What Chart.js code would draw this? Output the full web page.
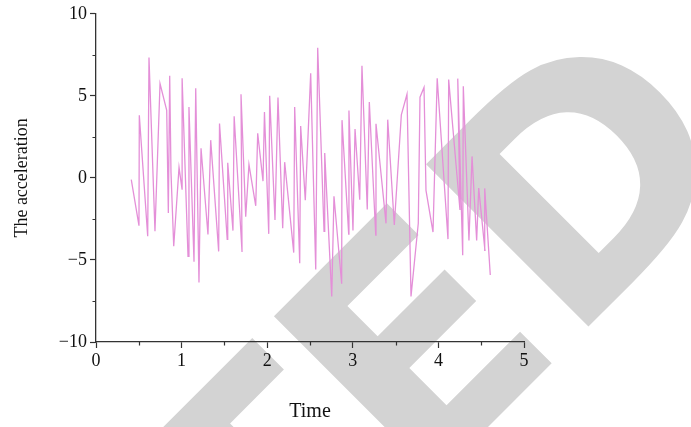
<!DOCTYPE html>
<html>
<head>
<meta charset="utf-8">
<script src="https://cdn.jsdelivr.net/npm/chart.js@4.4.1/dist/chart.umd.min.js"></script>
<style>
  html, body { margin: 0; padding: 0; background: #fff; }
  #wrap { width: 691px; height: 427px; position: relative; }
</style>
</head>
<body>
<div id="wrap"><canvas id="accelChart" width="691" height="427"></canvas></div>
<script>
// values
const times = [
  0.412, 0.502, 0.506, 0.604, 0.619, 0.689, 0.748, 0.826, 0.845, 0.861,
  0.876, 0.908, 0.970, 1.005, 1.006, 1.075, 1.086, 1.145, 1.165, 1.203,
  1.227, 1.308, 1.340, 1.433, 1.443, 1.533, 1.539, 1.600, 1.614, 1.706,
  1.694, 1.749, 1.787, 1.866, 1.889, 1.951, 1.968, 2.018, 2.029, 2.091,
  2.126, 2.181, 2.204, 2.310, 2.321, 2.380, 2.391, 2.445, 2.508, 2.567,
  2.590, 2.664, 2.672, 2.754, 2.780, 2.870, 2.874, 2.952, 2.955, 3.002,
  3.026, 3.081, 3.107, 3.169, 3.193, 3.268, 3.271, 3.388, 3.408, 3.485,
  3.567, 3.633, 3.680, 3.765, 3.785, 3.832, 3.855, 3.937, 3.986, 4.112,
  4.120, 4.252, 4.226, 4.284, 4.291, 4.357, 4.393, 4.447, 4.471, 4.544,
  4.541, 4.606
];
const accel = [
  -0.10, -2.91, 3.82, -3.55, 7.33, -3.25, 5.75, 4.12, -2.14, 6.23,
  0.34, -4.17, 0.64, -0.68, 6.07, -4.78, 4.32, -5.11, 5.46, -6.37,
  1.81, -3.45, 2.30, -4.48, 3.31, -3.75, 0.92, -3.21, 3.75, -4.52,
  5.10, -2.37, 0.81, -1.70, 2.72, -0.20, 4.01, -3.41, 5.00, -2.57,
  4.90, -3.07, 0.96, -4.55, 4.32, -5.20, 3.16, -1.36, 6.37, -5.58,
  7.93, -3.25, 1.51, -7.23, -1.12, -6.45, 3.52, -3.43, 4.10, -3.21,
  2.98, -1.33, 6.83, -1.93, 4.62, -3.49, 3.30, -2.77, 3.55, -2.87,
  3.84, 5.10, -7.22, -2.76, 4.92, 5.51, -0.76, -3.30, 6.07, -3.73,
  5.99, -1.96, 6.05, -4.72, 5.58, -3.81, 1.31, -3.81, -0.62, -4.42,
  -0.64, -5.92
];
const xTicks = [0, 1, 2, 3, 4, 5];
const yTicks = [-10, -5, 0, 5, 10];
const xMinor = [0.5, 1.5, 2.5, 3.5, 4.5];
const yMinor = [-7.5, -2.5, 2.5, 7.5];

const serif = "'Liberation Serif', 'DejaVu Serif', serif";
const axisColor = "#333";

function minus(v) {
  return v < 0 ? "\u2212" + Math.abs(v) : String(v);
}

// grey "RETRACTED" stamp behind the plot
const stampPlugin = {
  id: "stamp",
  beforeDraw(chart) {
    const ctx = chart.ctx;
    ctx.save();
    ctx.fillStyle = "#d3d3d3";
    ctx.font = "bold 315px 'DejaVu Sans', sans-serif";
    ctx.textBaseline = "alphabetic";
    ctx.textAlign = "right";
    ctx.translate(568, 347);
    ctx.rotate(-Math.PI / 4);
    const wD = ctx.measureText("D").width;
    ctx.fillText("RETRACTED", wD, 0);
    ctx.restore();
  }
};

// short minor ticks between the labelled ones
const minorTicks = {
  id: "minorTicks",
  afterDraw(chart) {
    const ctx = chart.ctx;
    const xs = chart.scales.x, ys = chart.scales.y;
    ctx.save();
    ctx.strokeStyle = axisColor;
    ctx.lineWidth = 1.2;
    ctx.beginPath();
    xMinor.forEach(v => {
      const px = Math.round(xs.getPixelForValue(v)) + 0.5;
      ctx.moveTo(px, xs.top);
      ctx.lineTo(px, xs.top + 3.5);
    });
    yMinor.forEach(v => {
      const py = Math.round(ys.getPixelForValue(v)) + 0.5;
      ctx.moveTo(ys.right, py);
      ctx.lineTo(ys.right - 3.5, py);
    });
    ctx.stroke();
    ctx.restore();
  }
};

const accelChart = new Chart("accelChart", {
  type: "line",
  data: {
    datasets: [
      {
        data: times.map((t, i) => ({ x: t, y: accel[i] })),
        borderColor: "#e48fd8",
        borderWidth: 1.3,
        pointRadius: 0,
        tension: 0,
        fill: false,
      },
    ],
  },
  options: {
    responsive: false,
    animation: false,
    events: [],
    layout: {
      padding: { top: 10, right: 167, left: 0, bottom: 0 },
    },
    plugins: {
      legend: { display: false },
      tooltip: { enabled: false },
    },
    scales: {
      x: {
        type: "linear",
        min: 0,
        max: 5,
        afterBuildTicks: (s) => { s.ticks = xTicks.map(v => ({ value: v })); },
        afterFit: (s) => { s.height = 85; },
        ticks: {
          color: "#111",
          font: { family: serif, size: 18 },
          padding: 2,
          maxRotation: 0,
          callback: (v) => minus(v),
        },
        grid: {
          drawOnChartArea: false,
          tickLength: 6,
          tickColor: axisColor,
          tickWidth: 1.2,
        },
        border: { color: axisColor, width: 1.3 },
        title: {
          display: true,
          text: "Time",
          color: "#111",
          font: { family: serif, size: 20 },
          padding: { top: 0, bottom: 3 },
        },
      },
      y: {
        type: "linear",
        min: -10,
        max: 10,
        afterBuildTicks: (s) => { s.ticks = yTicks.map(v => ({ value: v })); },
        afterFit: (s) => { s.width = 96; },
        ticks: {
          color: "#111",
          font: { family: serif, size: 18 },
          padding: 3,
          callback: (v) => minus(v),
        },
        grid: {
          drawOnChartArea: false,
          tickLength: 6,
          tickColor: axisColor,
          tickWidth: 1.2,
        },
        border: { color: axisColor, width: 1.3 },
        title: {
          display: true,
          text: "The acceleration",
          color: "#111",
          font: { family: serif, size: 18 },
          padding: { top: 11, bottom: 0 },
        },
      },
    },
  },
  plugins: [stampPlugin, minorTicks],
});
</script>
</body>
</html>
